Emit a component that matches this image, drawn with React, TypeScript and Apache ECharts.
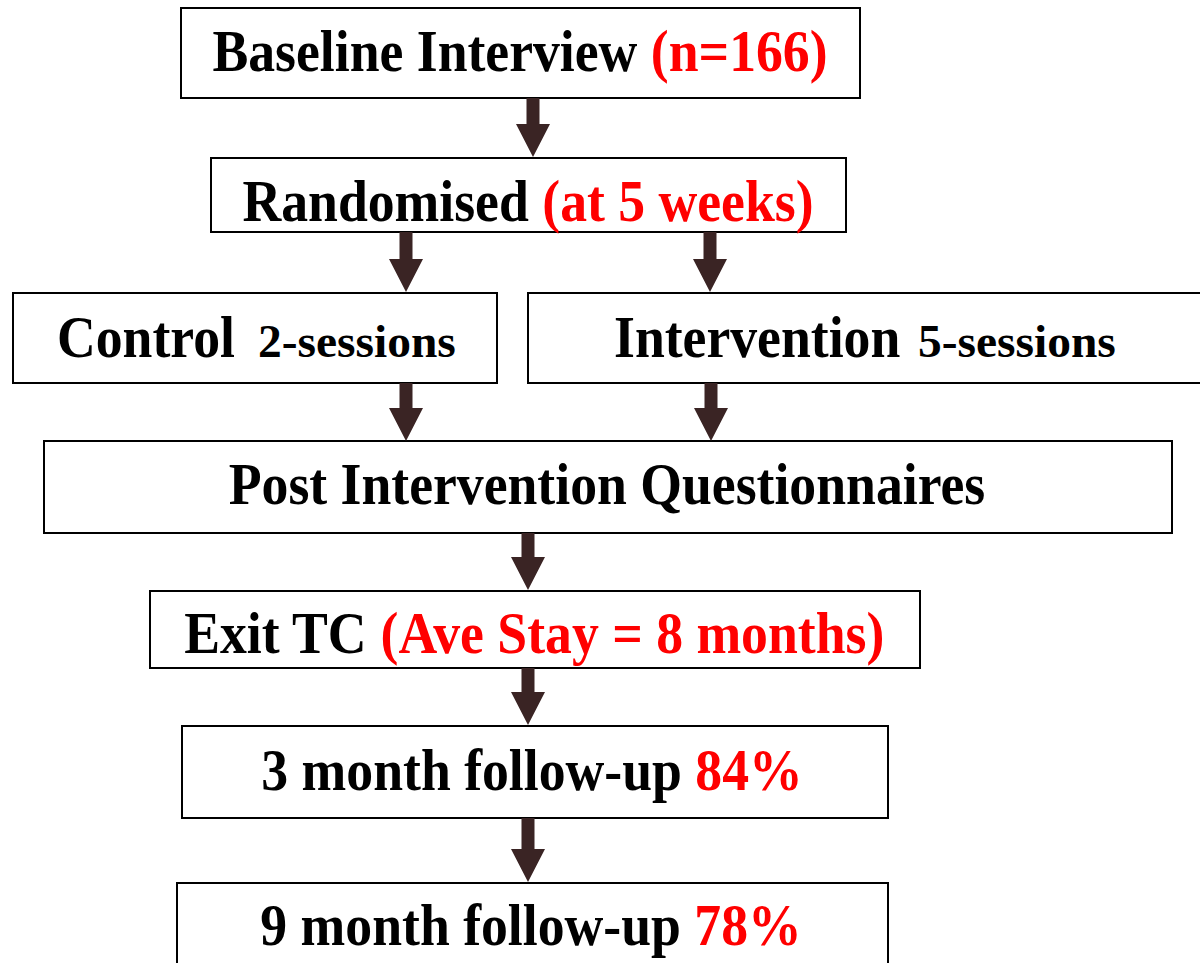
import React, { useEffect, useRef } from "react";
import * as echarts from "echarts";

// Box labels: [black part, second part]
const boxLabels: [string, string][] = [
  ["Baseline Interview ", "(n=166)"],
  ["Randomised ", "(at 5 weeks)"],
  ["Control", "2-sessions"],
  ["Intervention", "5-sessions"],
  ["Post Intervention Questionnaires", ""],
  ["Exit TC ", "(Ave Stay = 8 months)"],
  ["3 month follow-up ", "84%"],
  ["9 month follow-up ", "78%"],
];
// second part style: "r" = red inline, "s" = small black separate
const secondStyle = ["r", "r", "s", "s", "r", "r", "r", "r"];

// Box rectangles: x, y, w, h
const boxRects: [number, number, number, number][] = [
  [181, 8, 679, 90],
  [211, 158, 635, 74],
  [13, 293, 484, 90],
  [528, 293, 680, 90],
  [44, 441, 1128, 92],
  [150, 591, 770, 77],
  [182, 726, 706, 92],
  [177, 883, 711, 100],
];
// text anchor positions (centre for inline rows; left edges for split rows)
const textY = [51, 201, 337, 337, 484, 633, 770, 925];
const textX = [520, 528, 57, 614, 607, 534, 532, 531];
const smallX = [0, 0, 258, 918, 0, 0, 0, 0];

// Arrows: x, yStart, yEnd
const arrows: [number, number, number][] = [
  [533, 98, 157],
  [406, 232, 292],
  [710, 232, 292],
  [406, 383, 441],
  [711, 383, 441],
  [528, 533, 590],
  [528, 668, 725],
  [528, 818, 882],
];

const FONT = "'Liberation Serif', 'Times New Roman', serif";
const FS = 59;
const FS_SMALL = 47;
const SX = 0.91;
const SX_SMALL = 1.01;
const ARROW_COLOR = "#3a2424";

export default function App() {
  const ref = useRef<HTMLDivElement>(null);
  useEffect(() => {
    if (!ref.current) return;
    const chart = echarts.init(ref.current, null, { renderer: "svg" });
    const elements: any[] = [];
    boxRects.forEach(([x, y, w, h]) => {
      elements.push({
        type: "rect",
        shape: { x, y, width: w, height: h },
        style: { fill: "#fff", stroke: "#000", lineWidth: 2 },
      });
    });
    arrows.forEach(([x, y1, y2]) => {
      const head = 33;
      const sw = 6.5;
      const hw = 17;
      elements.push({
        type: "polygon",
        shape: {
          points: [
            [x - sw, y1],
            [x + sw, y1],
            [x + sw, y2 - head],
            [x + hw, y2 - head],
            [x, y2],
            [x - hw, y2 - head],
            [x - sw, y2 - head],
          ],
        },
        style: { fill: ARROW_COLOR },
      });
    });
    const rich = {
      k: { fontFamily: FONT, fontWeight: "bold", fontSize: FS, fill: "#000", color: "#000" },
      r: { fontFamily: FONT, fontWeight: "bold", fontSize: FS, fill: "#ff0000", color: "#ff0000" },
    };
    boxLabels.forEach(([a, b], i) => {
      if (secondStyle[i] === "s") {
        elements.push({
          type: "text",
          x: textX[i],
          y: textY[i],
          scaleX: SX,
          style: {
            text: a,
            align: "left",
            verticalAlign: "middle",
            fontFamily: FONT,
            fontWeight: "bold",
            fontSize: FS,
            fill: "#000",
          },
        });
        elements.push({
          type: "text",
          x: smallX[i],
          y: textY[i] + 4,
          scaleX: SX_SMALL,
          style: {
            text: b,
            align: "left",
            verticalAlign: "middle",
            fontFamily: FONT,
            fontWeight: "bold",
            fontSize: FS_SMALL,
            fill: "#000",
          },
        });
        return;
      }
      const txt = b ? `{k|${a}}{r|${b}}` : `{k|${a}}`;
      elements.push({
        type: "text",
        x: textX[i],
        y: textY[i],
        scaleX: SX,
        style: {
          text: txt,
          align: "center",
          verticalAlign: "middle",
          rich,
        },
      });
    });
    chart.setOption({
      animation: false,
      backgroundColor: "#fff",
      graphic: { elements },
    });
    return () => chart.dispose();
  }, []);
  return (
    <div
      ref={ref}
      style={{ position: "absolute", left: 0, top: 0, width: 1200, height: 963 }}
    />
  );
}
